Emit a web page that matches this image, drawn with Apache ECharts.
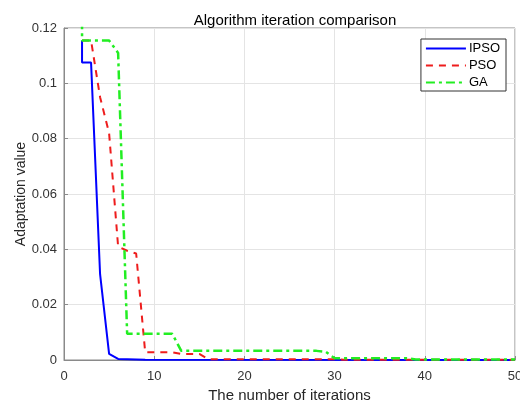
<!DOCTYPE html>
<html>
<head>
<meta charset="utf-8">
<script src="https://cdn.jsdelivr.net/npm/echarts@6/dist/echarts.min.js"></script>
<style>
  html, body { margin: 0; padding: 0; background: #fff; }
  #chart { width: 520px; height: 400px; }
</style>
</head>
<body>
<div id="chart"></div>
<script>
// iterations / values (breakpoints of each curve)
const ipsoX = [2, 2, 3, 4, 5, 6, 7, 8, 9, 50];
const ipsoY = [0.1155, 0.1075, 0.1075, 0.031, 0.0022, 0.0004, 0.0003, 0.0002, 0.00005, 0.00002];

const psoX = [2, 3, 4, 5, 6, 7, 8, 9, 12, 13, 15, 16, 30, 31, 50];
const psoY = [0.1155, 0.1155, 0.095, 0.082, 0.041, 0.0395, 0.0385, 0.0028, 0.0028, 0.0022, 0.0022, 0.0003, 0.0003, 0.0001, 0.0001];

const gaX = [2, 2, 5, 6, 7, 12, 13, 28, 29, 30, 38, 39, 50];
const gaY = [0.13, 0.1155, 0.1155, 0.111, 0.0095, 0.0095, 0.0033, 0.0033, 0.003, 0.0006, 0.0006, 0.0002, 0.0002];

const seriesNames = ["IPSO", "PSO", "GA"];
const xTicks = [0, 10, 20, 30, 40, 50];
const yTicks = [0, 0.02, 0.04, 0.06, 0.08, 0.1, 0.12];

const pairs = (xs, ys) => xs.map((x, i) => [x, ys[i]]);

const chart = echarts.init(document.getElementById("chart"), null, { renderer: "canvas" });

const font = "Liberation Sans, Arial, sans-serif";

const option = {
  animation: false,
  title: {
    text: "Algorithm iteration comparison",
    left: 290,
    top: 8,
    textAlign: "center",
    textStyle: { fontFamily: font, fontSize: 15, fontWeight: "normal", color: "#000" },
  },
  legend: {
    data: seriesNames,
    orient: "vertical",
    right: 14,
    top: 39,
    itemWidth: 40,
    itemHeight: 10,
    itemGap: 4,
    padding: [3, 6, 2, 4],
    borderColor: "#333",
    borderWidth: 1,
    backgroundColor: "#fff",
    itemStyle: { color: "transparent", borderWidth: 0 },
    textStyle: { fontFamily: font, fontSize: 13, lineHeight: 13, color: "#000", padding: [0, 0, 0, -2] },
  },
  grid: {
    left: 64,
    right: 5,
    top: 28,
    bottom: 40,
    outerBoundsMode: "none",
    show: true,
    borderColor: "#8a8a8a",
    borderWidth: 1,
  },
  xAxis: {
    type: "value",
    min: xTicks[0],
    max: xTicks[xTicks.length - 1],
    interval: 10,
    name: "The number of iterations",
    nameLocation: "middle",
    nameGap: 28,
    nameMoveOverlap: false,
    nameTextStyle: { fontFamily: font, fontSize: 15, color: "#262626" },
    axisLine: { lineStyle: { color: "#8a8a8a" } },
    axisTick: { inside: true, length: 4, lineStyle: { color: "#8a8a8a" } },
    axisLabel: { fontFamily: font, fontSize: 13, color: "#333", margin: 10 },
    splitLine: { show: true, lineStyle: { color: "#e4e4e4" } },
  },
  yAxis: {
    type: "value",
    min: yTicks[0],
    max: yTicks[yTicks.length - 1],
    interval: 0.02,
    name: "Adaptation value",
    nameLocation: "middle",
    nameGap: 36,
    nameMoveOverlap: false,
    nameTextStyle: { fontFamily: font, fontSize: 14, color: "#262626" },
    axisLine: { show: true, lineStyle: { color: "#8a8a8a" } },
    axisTick: { show: true, inside: true, length: 4, lineStyle: { color: "#8a8a8a" } },
    axisLabel: { fontFamily: font, fontSize: 13, color: "#333", margin: 7 },
    splitLine: { show: true, lineStyle: { color: "#e4e4e4" } },
  },
  series: [
    {
      name: "IPSO",
      type: "line",
      data: pairs(ipsoX, ipsoY),
      showSymbol: false,
      symbol: "none",
      z: 3,
      lineStyle: { color: "#0000ff", width: 2, type: "solid" },
      itemStyle: { color: "#0000ff" },
    },
    {
      name: "PSO",
      type: "line",
      data: pairs(psoX, psoY),
      showSymbol: false,
      symbol: "none",
      z: 4,
      lineStyle: { color: "#ee1c1c", width: 2, type: [7, 6] },
      itemStyle: { color: "#ee1c1c" },
    },
    {
      name: "GA",
      type: "line",
      data: pairs(gaX, gaY),
      showSymbol: false,
      symbol: "none",
      z: 5,
      lineStyle: { color: "#22ee22", width: 2.5, type: [9, 4, 3, 4] },
      itemStyle: { color: "#22ee22" },
    },
  ],
};

chart.setOption(option);
</script>
</body>
</html>
